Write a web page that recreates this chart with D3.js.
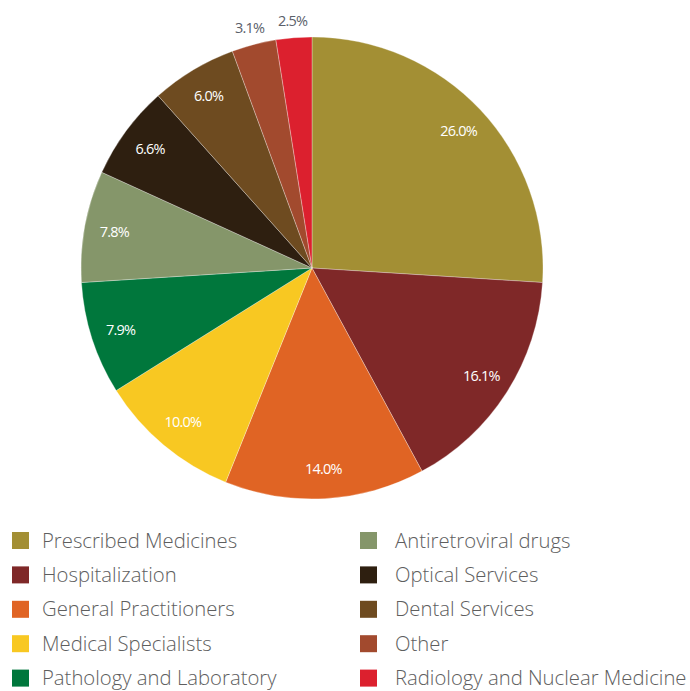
<!DOCTYPE html>
<html>
<head>
<meta charset="utf-8">
<script src="https://cdn.jsdelivr.net/npm/d3@7"></script>
<style>
  body { margin: 0; background: #fff; }
</style>
</head>
<body>
<div id="chart"></div>
<script>
var categories = ["Prescribed Medicines", "Hospitalization", "General Practitioners", "Medical Specialists",
  "Pathology and Laboratory", "Antiretroviral drugs", "Optical Services", "Dental Services", "Other",
  "Radiology and Nuclear Medicine"];
var shares = [26.0, 16.1, 14.0, 10.0, 7.9, 7.8, 6.6, 6.0, 3.1, 2.5];
var colors = ["#a38f34", "#7f2828", "#e06424", "#f8c822", "#00773c", "#85966a", "#2e1f10", "#6e4b20", "#a24a2e", "#dc202e"];

var width = 690, height = 691;
var cx = 312, cy = 268, radius = 231;

var svg = d3.select("#chart").append("svg")
  .attr("width", width)
  .attr("height", height);

var pie = d3.pie().sort(null).value(function(d) { return d; });
var arc = d3.arc().innerRadius(0).outerRadius(radius);
var labelArc = d3.arc().innerRadius(radius * 0.87).outerRadius(radius * 0.87);
var outerArc = d3.arc().innerRadius(radius + 17).outerRadius(radius + 17);

var g = svg.append("g").attr("transform", "translate(" + cx + "," + cy + ")");
var arcs = pie(shares);

g.selectAll("path")
  .data(arcs)
  .enter().append("path")
  .attr("d", arc)
  .attr("fill", function(d, i) { return colors[i]; })
  .attr("stroke", "#fff")
  .attr("stroke-width", 0.3);

g.selectAll("text.pct")
  .data(arcs)
  .enter().append("text")
  .attr("class", "pct")
  .attr("transform", function(d) {
    var p = d.data < 4 ? outerArc.centroid(d) : labelArc.centroid(d);
    return "translate(" + p + ")";
  })
  .attr("text-anchor", "middle")
  .attr("dy", "0.35em")
  .style("font-family", "'Open Sans', sans-serif")
  .style("font-size", "14.5px")
  .style("letter-spacing", "-0.8px")
  .style("fill", function(d) { return d.data < 4 ? "#5a606a" : "#fff"; })
  .text(function(d) { return d.data.toFixed(1) + "%"; });

var legend = svg.append("g");
var rowH = 34.4;
var item = legend.selectAll("g")
  .data(categories)
  .enter().append("g")
  .attr("transform", function(d, i) {
    var col = Math.floor(i / 5), row = i % 5;
    return "translate(" + (col ? 360 : 12) + "," + (532 + row * rowH) + ")";
  });

item.append("rect")
  .attr("width", 17)
  .attr("height", 17)
  .attr("fill", function(d, i) { return colors[i]; });

item.append("text")
  .attr("x", function(d, i) { return i < 5 ? 30 : 35; })
  .attr("y", 8.5)
  .attr("dy", "0.35em")
  .style("font-family", "'Open Sans', sans-serif")
  .style("font-weight", 300)
  .style("font-size", "20.3px")
  .style("fill", "#5e5e5e")
  .text(function(d) { return d; });
</script>
</body>
</html>
